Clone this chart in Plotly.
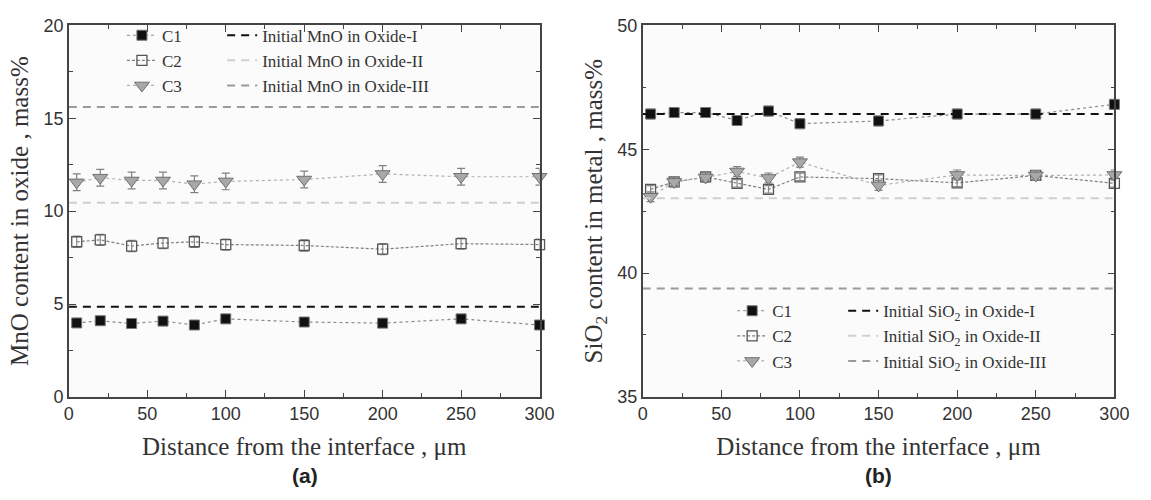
import plotly.graph_objects as go

# ---------------- data ----------------
distance = [5, 20, 40, 60, 80, 100, 150, 200, 250, 300]

# (a) MnO content in oxide, mass%
mno_c1 = [3.98, 4.1, 3.95, 4.08, 3.87, 4.2, 4.03, 3.97, 4.2, 3.87]
mno_c2 = [8.35, 8.45, 8.12, 8.28, 8.35, 8.2, 8.15, 7.95, 8.25, 8.2]
mno_c3 = [11.55, 11.8, 11.65, 11.65, 11.45, 11.6, 11.7, 12.0, 11.85, 11.85]
mno_err = [0.2, 0.3, 0.45]
mno_initial = [4.85, 10.45, 15.6]

# (b) SiO2 content in metal, mass%
sio2_c1 = [46.42, 46.48, 46.48, 46.16, 46.54, 46.03, 46.14, 46.42, 46.42, 46.81]
sio2_c2 = [43.38, 43.68, 43.88, 43.62, 43.38, 43.88, 43.81, 43.64, 43.94, 43.62]
sio2_c3 = [43.08, 43.68, 43.86, 44.1, 43.84, 44.48, 43.54, 43.96, 43.94, 43.96]
sio2_err = [0.2, 0.15, 0.2]
sio2_initial = [46.42, 43.02, 39.38]

series_names = ["C1", "C2", "C3"]
oxide_names = ["Oxide-I", "Oxide-II", "Oxide-III"]
x_range = [0, 300]

# ---------------- styles ----------------
SERIF = "Liberation Serif, Times New Roman, serif"
SANS = "Liberation Sans, Arial, sans-serif"
series_style = [
    dict(line=dict(color="#8a8a8a", width=1.2, dash="dot"),
         marker=dict(symbol="square", size=10, color="#111111",
                     line=dict(color="#777777", width=1)),
         err="#888888"),
    dict(line=dict(color="#808080", width=1.2, dash="3px,2px"),
         marker=dict(symbol="square-open", size=10, color="#555555",
                     line=dict(width=1.3)),
         err="#888888"),
    dict(line=dict(color="#b0b0b0", width=1.2, dash="dot"),
         marker=dict(symbol="triangle-down", size=13, color="#a8a8a8",
                     line=dict(color="#707070", width=1)),
         err="#808080"),
]
initial_colors = ["#111111", "#cfcfcf", "#9a9a9a"]

fig = go.Figure()

panels = [
    dict(xa="x", ya="y", data=[mno_c1, mno_c2, mno_c3], err=mno_err,
         init=mno_initial, species="MnO", legA="legend", legB="legend2"),
    dict(xa="x2", ya="y2", data=[sio2_c1, sio2_c2, sio2_c3], err=sio2_err,
         init=sio2_initial, species="SiO<sub>2</sub>", legA="legend3", legB="legend4"),
]

for p in panels:
    for name, vals, e, st in zip(series_names, p["data"], p["err"], series_style):
        fig.add_trace(go.Scatter(
            x=distance, y=vals, name=name, mode="lines+markers",
            xaxis=p["xa"], yaxis=p["ya"], legend=p["legA"],
            line=st["line"], marker=st["marker"],
            error_y=dict(type="constant", value=e, color=st["err"],
                         thickness=1.2, width=4),
            cliponaxis=False,
        ))
    for oname, level, col in zip(oxide_names, p["init"], initial_colors):
        fig.add_trace(go.Scatter(
            x=x_range, y=[level, level], mode="lines",
            name=f"Initial {p['species']} in {oname}",
            xaxis=p["xa"], yaxis=p["ya"], legend=p["legB"],
            line=dict(color=col, width=2, dash="8px,6px"),
        ))

W, H = 1151, 500
def fx(px): return px / W
def fy(py): return 1 - py / H

axis_common = dict(
    showline=True, linecolor="#444444", linewidth=1.5, mirror="ticks",
    ticks="inside", ticklen=7, tickwidth=1.3, tickcolor="#444444",
    showgrid=False, zeroline=False,
    tickfont=dict(family=SANS, size=18, color="#333333"),
)
TITLE_FONT = dict(family=SERIF, size=25, color="#333333")
xaxis_common = dict(axis_common, range=[0, 300], dtick=50,
                    minor=dict(ticks="inside", dtick=25, ticklen=4, tickcolor="#444444"),
                    title=dict(text="Distance from the interface , μm",
                               font=TITLE_FONT, standoff=14))

legend_common = dict(bgcolor="rgba(0,0,0,0)", borderwidth=0,
                     font=dict(family=SERIF, size=17, color="#333333"),
                     xanchor="left", yanchor="top", tracegroupgap=0,
                     itemwidth=30)

fig.update_layout(
    width=W, height=H,
    margin=dict(l=0, r=0, t=0, b=0),
    paper_bgcolor="white", plot_bgcolor="#fbfbfb",
    xaxis=dict(xaxis_common, domain=[fx(65), fx(544)], anchor="y"),
    yaxis=dict(axis_common, range=[0, 20], dtick=5, anchor="x",
               domain=[fy(403), fy(16)],
               minor=dict(ticks="inside", dtick=2.5, ticklen=4, tickcolor="#444444"),
               title=dict(text="MnO content in oxide , mass%",
                          font=TITLE_FONT, standoff=8)),
    xaxis2=dict(xaxis_common, domain=[fx(649), fx(1129)], anchor="y2"),
    yaxis2=dict(axis_common, range=[35, 50], dtick=5, anchor="x2",
                domain=[fy(403), fy(16)],
                minor=dict(ticks="inside", dtick=2.5, ticklen=4, tickcolor="#444444"),
                title=dict(text="SiO<sub>2</sub> content in metal , mass%",
                           font=TITLE_FONT, standoff=8)),
    legend=dict(legend_common, x=fx(119), y=fy(8)),
    legend2=dict(legend_common, x=fx(221), y=fy(8)),
    legend3=dict(legend_common, x=fx(740), y=fy(295)),
    legend4=dict(legend_common, x=fx(853), y=fy(295)),
    annotations=[
        dict(text="<b>(a)</b>", x=fx(305), y=fy(485), xref="paper", yref="paper",
             xanchor="center", yanchor="middle",
             showarrow=False, font=dict(family=SANS, size=21, color="#222222")),
        dict(text="<b>(b)</b>", x=fx(889), y=fy(485), xref="paper", yref="paper",
             xanchor="center", yanchor="middle",
             showarrow=False, font=dict(family=SANS, size=21, color="#222222")),
    ],
)

fig.write_html("out.html")
